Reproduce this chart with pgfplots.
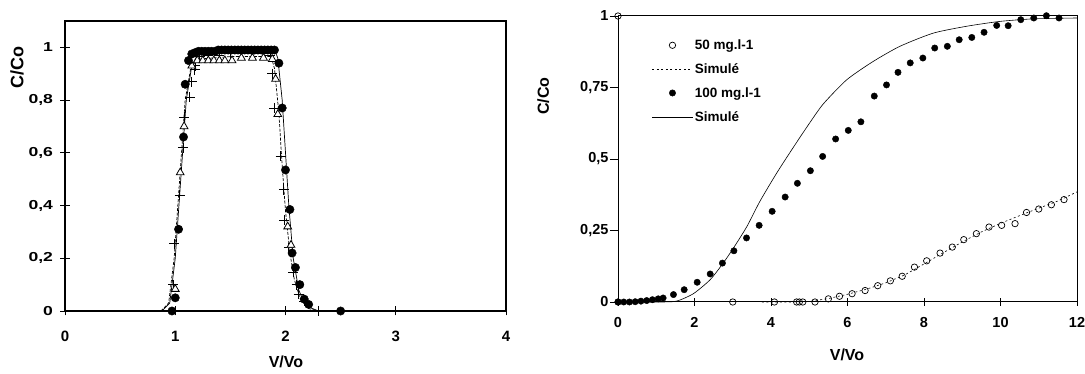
\documentclass[border=0pt]{standalone}
\usepackage{fontspec}
\setmainfont{Liberation Sans}
\usepackage{pgfplots}
\pgfplotsset{compat=1.18}
\newcommand\sx[1]{\scalebox{1.35}[1]{#1}}
\begin{document}
\begin{tikzpicture}
\pgfplotsset{
  every axis/.append style={
    scale only axis, anchor=south west,
    tick style={line width=0.8pt, black},
    tick align=center, major tick length=9pt,
    xtick pos=lower, ytick pos=left,
    /pgf/number format/assume math mode=true,
    clip=false,
  },
  /pgfplots/legend image code/.code={\draw[mark repeat=2,mark phase=2,#1] plot coordinates {(0pt,0pt) (20pt,0pt) (40pt,0pt)};},
}
\path[use as bounding box] (0pt,0pt) rectangle (1085pt,374pt);
% ---------------- left chart ----------------
\begin{axis}[at={(65pt,63pt)}, width=441pt, height=290pt,
  axis line style={line width=1.4pt},
  xmin=0, xmax=4, ymin=0, ymax=1.1,
  xtick={0,1,2,3,4},
  ytick={0,0.2,0.4,0.6,0.8,1},
  yticklabels={\sx{0},\sx{0,2},\sx{0,4},\sx{0,6},\sx{0,8},\sx{1}},
  x tick label style={font=\bfseries\fontsize{15}{17}\selectfont, yshift=-12pt},
  y tick label style={font=\bfseries\fontsize{13}{15}\selectfont, xshift=-4pt},
  xlabel={V/Vo}, ylabel={C/Co},
  xlabel style={font=\bfseries\fontsize{16}{18}\selectfont, at={(axis description cs:0.501,-0.176)}, anchor=center},
  ylabel style={font=\bfseries\fontsize{18}{20}\selectfont, at={(axis description cs:-0.109,0.838)}, anchor=center},
]
% simulated lines
\addplot[black, line width=0.7pt] coordinates {
(0.88,0) (0.95,0.03) (1.0,0.2) (1.05,0.5) (1.1,0.8) (1.15,0.93) (1.2,0.97) (1.3,0.985) (1.6,0.99) (1.9,0.99)
(1.93,0.96) (1.97,0.8) (2.0,0.6) (2.03,0.4) (2.07,0.2) (2.12,0.08) (2.18,0.02) (2.3,0) (2.5,0)};
\addplot[black, line width=0.7pt, dash pattern=on 3pt off 1.5pt] coordinates {
(0.87,0) (0.94,0.03) (0.99,0.2) (1.04,0.5) (1.09,0.8) (1.14,0.92) (1.2,0.955) (1.5,0.965) (1.87,0.965)
(1.9,0.92) (1.94,0.75) (1.97,0.55) (2.0,0.38) (2.04,0.22) (2.08,0.12) (2.13,0.05) (2.2,0.01) (2.3,0)};
% plus
\addplot[only marks, mark=+, mark size=5pt, black, line width=0.9pt] coordinates {
(0.98,0.10) (0.99,0.255) (1.04,0.44) (1.07,0.62) (1.08,0.735) (1.13,0.81) (1.15,0.87) (1.175,0.915) (1.18,0.93)
(1.22,0.965) (1.3,0.97) (1.4,0.97) (1.5,0.975) (1.6,0.975) (1.7,0.975) (1.8,0.975) (1.86,0.97)
(1.88,0.90) (1.90,0.77) (1.955,0.587) (1.985,0.46) (1.99,0.345) (2.03,0.24) (2.07,0.148) (2.1,0.10) (2.12,0.064) (2.17,0.038) (2.3,0)};
% triangles
\addplot[only marks, mark=triangle*, mark size=4.5pt, mark options={fill=white, draw=black, line width=0.8pt}] coordinates {
(1.0,0.083) (1.045,0.525) (1.08,0.70) (1.15,0.93) (1.2,0.95) (1.25,0.95) (1.3,0.95) (1.35,0.95) (1.4,0.95) (1.45,0.95) (1.515,0.95)
(1.6,0.96) (1.7,0.96) (1.8,0.96) (1.88,0.955) (1.91,0.88) (1.93,0.746) (2.02,0.32) (2.05,0.25)};
% filled circles
\addplot[only marks, mark=*, mark size=4.2pt, black] coordinates {
(0.97,0) (1.00,0.05) (1.03,0.31) (1.075,0.66) (1.09,0.86) (1.12,0.95)
(1.15,0.975) (1.18,0.98) (1.21,0.985) (1.24,0.985) (1.27,0.985) (1.30,0.985) (1.33,0.985) (1.36,0.985) (1.39,0.99)
(1.42,0.99) (1.45,0.99) (1.48,0.99) (1.51,0.99) (1.54,0.99) (1.57,0.99) (1.60,0.99) (1.63,0.99) (1.66,0.99)
(1.69,0.99) (1.72,0.99) (1.75,0.99) (1.78,0.99) (1.81,0.99) (1.84,0.99) (1.87,0.99) (1.90,0.99)
(1.94,0.94) (1.97,0.77) (2.00,0.535) (2.04,0.385) (2.06,0.22) (2.09,0.165) (2.13,0.10) (2.17,0.045) (2.21,0.025) (2.5,0)};
\end{axis}
% ---------------- right chart ----------------
\begin{axis}[at={(618pt,72pt)}, width=459pt, height=286pt,
  axis line style={line width=1pt},
  xmin=0, xmax=12, ymin=0, ymax=1,
  xtick={0,2,4,6,8,10,12},
  ytick={0,0.25,0.5,0.75,1},
  yticklabels={0,{0,25},{0,5},{0,75},1},
  major tick length=8pt,
  y tick style={xshift=-4pt},
  x tick label style={font=\bfseries\fontsize{14.5}{16}\selectfont, yshift=-8pt},
  y tick label style={font=\bfseries\fontsize{14.5}{16}\selectfont, xshift=-2pt},
  xlabel={V/Vo}, ylabel={C/Co},
  label style={font=\bfseries\fontsize{16}{18}\selectfont},
  xlabel style={at={(axis description cs:0.499,-0.185)}, anchor=center},
  ylabel style={at={(axis description cs:-0.163,0.72)}, anchor=center},
  legend style={at={(axis description cs:0.074,0.925)}, anchor=north west, draw=none, fill=none,
    font=\bfseries\fontsize{13.5}{15}\selectfont, row sep=8.5pt, inner sep=0pt},
  legend cell align=left,
]
\addplot[only marks, mark=o, mark size=3.2pt, black, line width=0.7pt, mark options={fill=white}] coordinates {
(0,0) (0,1) (3.0,0) (4.09,0) (4.67,0) (4.74,0) (4.83,0) (5.15,0) (5.5,0.011) (5.79,0.02) (6.12,0.029) (6.46,0.04)
(6.79,0.057) (7.12,0.074) (7.43,0.09) (7.75,0.122) (8.07,0.144) (8.42,0.171) (8.74,0.192) (9.04,0.218)
(9.37,0.239) (9.7,0.262) (10.03,0.268) (10.38,0.274) (10.68,0.313) (11.0,0.325) (11.33,0.34) (11.66,0.358)};
\addlegendentry{50 mg.l-1}
\addplot[black, line width=0.6pt, dash pattern=on 2pt off 2.5pt] coordinates {
(3.76,0) (4.5,0) (5.0,0.002) (5.5,0.012) (6,0.027) (6.5,0.045) (7,0.067) (7.5,0.095) (8,0.133)
(8.5,0.172) (9,0.21) (9.5,0.245) (10,0.275) (10.5,0.302) (11,0.328) (11.5,0.353) (12,0.385)};
\addlegendentry{Simulé}
\addplot[only marks, mark=*, mark size=3.2pt, black] coordinates {
(0,0) (0.15,0) (0.3,0) (0.45,0.001) (0.6,0.003) (0.75,0.005) (0.9,0.008) (1.05,0.011)
(1.18,0.014) (1.45,0.026) (1.73,0.043) (2.07,0.069) (2.41,0.098) (2.73,0.136) (3.03,0.179) (3.36,0.224)
(3.69,0.268) (4.03,0.317) (4.37,0.367) (4.69,0.415) (5.03,0.459) (5.35,0.509) (5.69,0.57) (6.02,0.60)
(6.35,0.63) (6.7,0.72) (7.02,0.759) (7.32,0.803) (7.64,0.836) (7.97,0.853) (8.28,0.888) (8.61,0.894)
(8.92,0.917) (9.25,0.925) (9.57,0.943) (9.9,0.967) (10.2,0.966) (10.53,0.987) (10.87,0.993) (11.2,1.001) (11.53,0.993)};
\addlegendentry{100 mg.l-1}
\addplot[black, line width=0.6pt, smooth, tension=0.4] coordinates {
(0,0) (1.1,0) (1.53,0.003) (1.97,0.029) (2.41,0.078) (2.75,0.136) (3.02,0.189) (3.37,0.264) (3.71,0.352)
(4.15,0.451) (4.58,0.54) (5.0,0.624) (5.37,0.693) (5.98,0.777) (6.67,0.841) (7.37,0.894) (8.24,0.94)
(9.11,0.964) (9.98,0.981) (10.86,0.99) (12,0.993)};
\addlegendentry{Simulé}
\end{axis}
\end{tikzpicture}
\end{document}
